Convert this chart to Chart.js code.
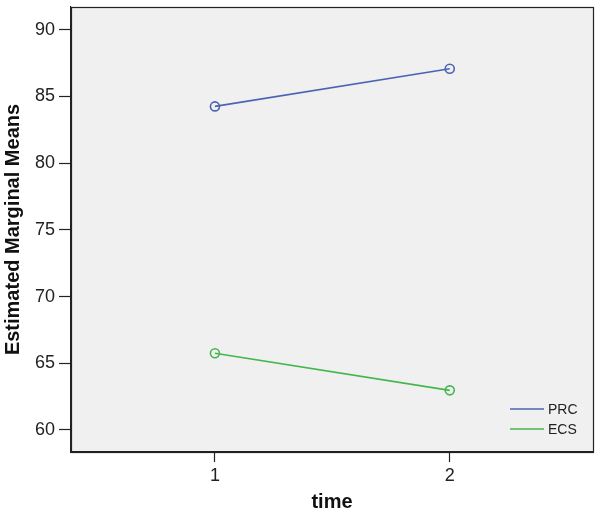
<!DOCTYPE html>
<html>
<head>
<meta charset="utf-8">
<script src="https://cdn.jsdelivr.net/npm/chart.js@4"></script>
<style>
  html, body { margin: 0; padding: 0; background: #fff; }
  #wrap { width: 601px; height: 514px; }
</style>
</head>
<body>
<div id="wrap"><canvas id="chart" width="601" height="514"></canvas></div>
<script>
const timePoints = [1, 2];
const seriesNames = ['PRC', 'ECS'];
const prcMeans = [84.25, 87.07];
const ecsMeans = [65.75, 62.97];
const yTicks = [60, 65, 70, 75, 80, 85, 90];

const colors = ['#4a64b3', '#44b64d'];
const FONT = '"Liberation Sans", Arial, sans-serif';

// light grey plot background + box around it
const plotBox = {
  id: 'plotBox',
  beforeDraw(chart) {
    const { ctx, chartArea: a } = chart;
    ctx.save();
    ctx.fillStyle = '#f0f0f0';
    ctx.fillRect(a.left, a.top, a.right - a.left, a.bottom - a.top);
    ctx.restore();
  },
  afterDraw(chart) {
    const { ctx, chartArea: a } = chart;
    ctx.save();
    ctx.strokeStyle = '#222';
    ctx.lineWidth = 1.2;
    ctx.strokeRect(a.left + 0.5, a.top + 0.5, a.right - a.left, a.bottom - a.top);

    // legend in bottom-right corner of the plot
    ctx.font = '14px ' + FONT;
    ctx.textBaseline = 'middle';
    ctx.fillStyle = '#222';
    chart.data.datasets.forEach((ds, i) => {
      const y = a.bottom - 43 + i * 20;
      const x = a.right - 83;
      ctx.strokeStyle = ds.borderColor;
      ctx.lineWidth = 1.3;
      ctx.beginPath();
      ctx.moveTo(x, y);
      ctx.lineTo(x + 34, y);
      ctx.stroke();
      ctx.fillText(ds.label, x + 38, y + 1);
    });
    ctx.restore();
  }
};

const makeSeries = vals => vals.map((v, i) => ({ x: timePoints[i], y: v }));

new Chart(document.getElementById('chart'), {
  type: 'line',
  data: {
    datasets: [
      { label: seriesNames[0], data: makeSeries(prcMeans) },
      { label: seriesNames[1], data: makeSeries(ecsMeans) }
    ].map((d, i) => Object.assign(d, {
      borderColor: colors[i],
      backgroundColor: 'rgba(0,0,0,0)',
      borderWidth: 1.6,
      pointRadius: 4.5,
      pointBorderWidth: 1.6,
      pointBackgroundColor: 'rgba(0,0,0,0)',
      pointBorderColor: colors[i],
      tension: 0
    }))
  },
  options: {
    responsive: false,
    animation: false,
    layout: { padding: { top: 7, right: 8, left: 0, bottom: 0 } },
    plugins: {
      legend: { display: false },
      tooltip: { enabled: false }
    },
    scales: {
      x: {
        type: 'linear',
        min: 0.387,
        max: 2.61,
        afterBuildTicks: s => { s.ticks = timePoints.map(v => ({ value: v })); },
        afterFit: s => { s.height = 62; s.paddingLeft = 0; s.paddingRight = 0; },
        border: { display: true, color: '#222', width: 1.2 },
        grid: { drawOnChartArea: false, drawTicks: true, tickLength: 10, color: '#222', tickWidth: 1.2 },
        ticks: {
          color: '#222',
          padding: 3,
          font: { family: FONT, size: 18 },
          callback: v => String(v)
        },
        title: {
          display: true,
          text: 'time',
          color: '#111',
          padding: { top: 0, bottom: 0 },
          font: { family: FONT, size: 20, weight: 'bold' }
        }
      },
      y: {
        min: 58.35,
        max: 91.7,
        afterBuildTicks: s => { s.ticks = yTicks.map(v => ({ value: v })); },
        afterFit: s => { s.width = 71; s.paddingTop = 0; s.paddingBottom = 0; },
        border: { display: true, color: '#222', width: 1.2 },
        grid: { drawOnChartArea: false, drawTicks: true, tickLength: 12, color: '#222', tickWidth: 1.2 },
        ticks: {
          color: '#222',
          padding: 4,
          font: { family: FONT, size: 18 }
        },
        title: {
          display: true,
          text: 'Estimated Marginal Means',
          color: '#111',
          padding: { top: 1, bottom: 0 },
          font: { family: FONT, size: 20, weight: 'bold' }
        }
      }
    }
  },
  plugins: [plotBox]
});
</script>
</body>
</html>
